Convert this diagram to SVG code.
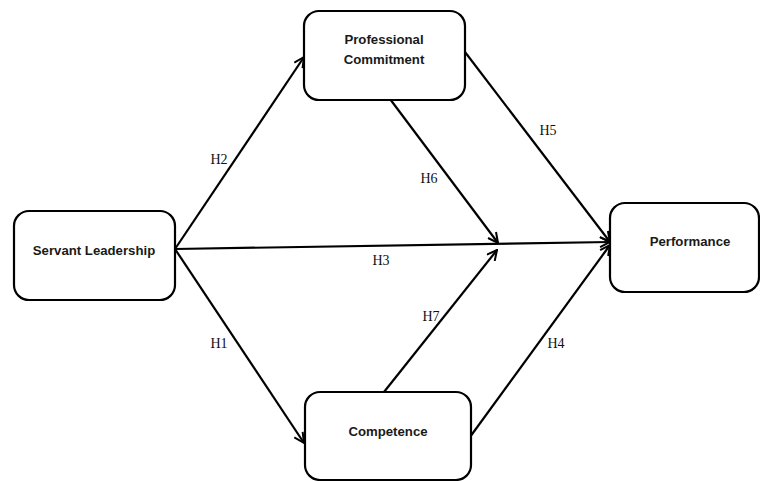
<svg xmlns="http://www.w3.org/2000/svg" width="760" height="481" viewBox="0 0 760 481">
<defs>
<style>
.box{fill:#fff;stroke:#000;stroke-width:2.2}
.nt{font-family:"Liberation Sans",Arial,sans-serif;font-weight:bold;font-size:13.2px;fill:#1a1a1a;text-anchor:middle}
.lb{font-family:"Liberation Serif","Times New Roman",serif;font-size:14px;fill:#111;text-anchor:middle}
.ln{stroke:#000;stroke-width:2.2;fill:none;marker-end:url(#ah)}
</style>
<marker id="ah" viewBox="0 0 12 12" refX="11" refY="6" markerWidth="12" markerHeight="12" markerUnits="userSpaceOnUse" orient="auto">
<polyline points="1,1 11,6 1,11" fill="none" stroke="#000" stroke-width="2"/>
</marker>
</defs>
<rect width="760" height="481" fill="#fff"/>
<g id="connectors">
<line class="ln" x1="175" y1="249" x2="304" y2="57"/>
<line class="ln" x1="175" y1="249" x2="304" y2="443"/>
<line class="ln" x1="175" y1="249" x2="610" y2="242"/>
<line class="ln" x1="465" y1="52" x2="610" y2="242"/>
<line class="ln" x1="470" y1="437" x2="610" y2="245"/>
<line class="ln" x1="390" y1="99" x2="498" y2="243"/>
<line class="ln" x1="384" y1="392" x2="497" y2="250"/>
<text class="lb" x="219" y="164">H2</text>
<text class="lb" x="429" y="183">H6</text>
<text class="lb" x="548" y="135">H5</text>
<text class="lb" x="381" y="265">H3</text>
<text class="lb" x="431" y="321">H7</text>
<text class="lb" x="556" y="348">H4</text>
<text class="lb" x="219" y="348">H1</text>
</g>
<g id="servant">
<rect class="box" x="14" y="211" width="161" height="89" rx="15"/>
<text class="nt" x="94" y="255">Servant Leadership</text>
</g>
<g id="commitment">
<rect class="box" x="304" y="11" width="161" height="89" rx="15"/>
<text class="nt" x="384" y="44">Professional</text>
<text class="nt" x="384" y="64">Commitment</text>
</g>
<g id="competence">
<rect class="box" x="305" y="392" width="166" height="88" rx="15"/>
<text class="nt" x="388" y="436">Competence</text>
</g>
<g id="performance">
<rect class="box" x="610" y="203" width="149" height="89" rx="15"/>
<text class="nt" x="690" y="246">Performance</text>
</g>
</svg>
